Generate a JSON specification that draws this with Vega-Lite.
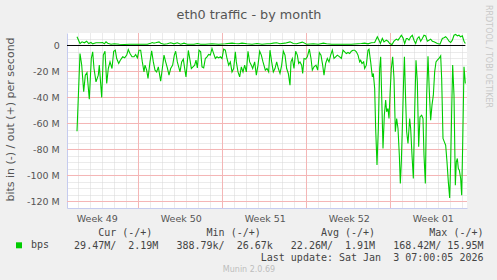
{
  "$schema": "https://vega.github.io/schema/vega-lite/v6.json",
  "width": 400,
  "height": 175,
  "autosize": {"type": "none"},
  "padding": {"left": 67, "top": 33, "right": 30, "bottom": 72},
  "background": "#f0f0f0",
  "config": {"view": {"fill": "#ffffff", "stroke": null}, "font": "DejaVu Sans"},
  "datasets": {
    "weeks": [{"day": 7}, {"day": 14}, {"day": 21}, {"day": 28}],
    "levels": [{"value": 0}, {"value": -20}, {"value": -40}, {"value": -60}, {"value": -80}, {"value": -100}, {"value": -120}],
    "traffic": [
      {"day": 1.875, "dir": "in", "value": -65.9}, {"day": 2.125, "dir": "in", "value": -6.2}, {"day": 2.267, "dir": "in", "value": -15}, {"day": 2.433, "dir": "in", "value": -35.6}, {"day": 2.567, "dir": "in", "value": -22.8}, {"day": 2.708, "dir": "in", "value": -20.8}, {"day": 2.9, "dir": "in", "value": -41.3}, {"day": 3.067, "dir": "in", "value": -10}, {"day": 3.183, "dir": "in", "value": -4.9}, {"day": 3.292, "dir": "in", "value": -17.7}, {"day": 3.458, "dir": "in", "value": -28}, {"day": 3.65, "dir": "in", "value": -22.8}, {"day": 3.733, "dir": "in", "value": -15}, {"day": 3.933, "dir": "in", "value": -40}, {"day": 4.067, "dir": "in", "value": -7.4}, {"day": 4.208, "dir": "in", "value": -4.4}, {"day": 4.35, "dir": "in", "value": -29.2}, {"day": 4.483, "dir": "in", "value": -17.7}, {"day": 4.625, "dir": "in", "value": -12.6}, {"day": 4.792, "dir": "in", "value": -17.7}, {"day": 4.933, "dir": "in", "value": -4.4}, {"day": 5.067, "dir": "in", "value": -3.6}, {"day": 5.183, "dir": "in", "value": -10}, {"day": 5.35, "dir": "in", "value": -13.8}, {"day": 5.483, "dir": "in", "value": -11.3}, {"day": 5.683, "dir": "in", "value": -8.7}, {"day": 5.85, "dir": "in", "value": -9.5}, {"day": 6.017, "dir": "in", "value": -7.4}, {"day": 6.15, "dir": "in", "value": -3.1}, {"day": 6.292, "dir": "in", "value": -6.2}, {"day": 6.458, "dir": "in", "value": -8.7}, {"day": 6.625, "dir": "in", "value": -8.7}, {"day": 6.764, "dir": "in", "value": -6.9}, {"day": 6.903, "dir": "in", "value": -9.5}, {"day": 7.042, "dir": "in", "value": -3.6}, {"day": 7.181, "dir": "in", "value": -3.6}, {"day": 7.319, "dir": "in", "value": -12.6}, {"day": 7.458, "dir": "in", "value": -20.3}, {"day": 7.542, "dir": "in", "value": -15.1}, {"day": 7.681, "dir": "in", "value": -19}, {"day": 7.792, "dir": "in", "value": -25.4}, {"day": 7.958, "dir": "in", "value": -12.6}, {"day": 8.097, "dir": "in", "value": -4.1}, {"day": 8.236, "dir": "in", "value": -12.6}, {"day": 8.375, "dir": "in", "value": -19}, {"day": 8.514, "dir": "in", "value": -20.3}, {"day": 8.653, "dir": "in", "value": -16.4}, {"day": 8.847, "dir": "in", "value": -27.4}, {"day": 8.986, "dir": "in", "value": -17.7}, {"day": 9.125, "dir": "in", "value": -7.4}, {"day": 9.264, "dir": "in", "value": -12.6}, {"day": 9.403, "dir": "in", "value": -17.2}, {"day": 9.542, "dir": "in", "value": -22.8}, {"day": 9.681, "dir": "in", "value": -17.7}, {"day": 9.847, "dir": "in", "value": -15.1}, {"day": 9.986, "dir": "in", "value": -7.4}, {"day": 10.097, "dir": "in", "value": -4.4}, {"day": 10.236, "dir": "in", "value": -12.6}, {"day": 10.347, "dir": "in", "value": -16.4}, {"day": 10.458, "dir": "in", "value": -20.3}, {"day": 10.597, "dir": "in", "value": -12.6}, {"day": 10.736, "dir": "in", "value": -10.5}, {"day": 10.847, "dir": "in", "value": -17.7}, {"day": 10.958, "dir": "in", "value": -24.1}, {"day": 11.069, "dir": "in", "value": -12.6}, {"day": 11.153, "dir": "in", "value": -3.8}, {"day": 11.292, "dir": "in", "value": -11.3}, {"day": 11.403, "dir": "in", "value": -17.7}, {"day": 11.542, "dir": "in", "value": -16.4}, {"day": 11.681, "dir": "in", "value": -15.1}, {"day": 11.792, "dir": "in", "value": -11.3}, {"day": 11.903, "dir": "in", "value": -17.2}, {"day": 12.042, "dir": "in", "value": -3.6}, {"day": 12.181, "dir": "in", "value": -4.9}, {"day": 12.292, "dir": "in", "value": -16.4}, {"day": 12.431, "dir": "in", "value": -17.2}, {"day": 12.569, "dir": "in", "value": -10}, {"day": 12.708, "dir": "in", "value": -8.7}, {"day": 12.847, "dir": "in", "value": -6.9}, {"day": 12.986, "dir": "in", "value": -7.4}, {"day": 13.125, "dir": "in", "value": -2.3}, {"day": 13.264, "dir": "in", "value": -6.2}, {"day": 13.403, "dir": "in", "value": -10}, {"day": 13.542, "dir": "in", "value": -8.7}, {"day": 13.681, "dir": "in", "value": -9.5}, {"day": 13.819, "dir": "in", "value": -8.7}, {"day": 13.958, "dir": "in", "value": -10}, {"day": 14.097, "dir": "in", "value": -2.8}, {"day": 14.236, "dir": "in", "value": -3.6}, {"day": 14.375, "dir": "in", "value": -10}, {"day": 14.514, "dir": "in", "value": -15.1}, {"day": 14.653, "dir": "in", "value": -12.6}, {"day": 14.792, "dir": "in", "value": -20.3}, {"day": 14.931, "dir": "in", "value": -17.7}, {"day": 15.069, "dir": "in", "value": -4.9}, {"day": 15.153, "dir": "in", "value": -12.6}, {"day": 15.292, "dir": "in", "value": -20.3}, {"day": 15.431, "dir": "in", "value": -24.1}, {"day": 15.569, "dir": "in", "value": -16.4}, {"day": 15.708, "dir": "in", "value": -20.3}, {"day": 15.847, "dir": "in", "value": -15.1}, {"day": 15.986, "dir": "in", "value": -20.3}, {"day": 16.125, "dir": "in", "value": -4.4}, {"day": 16.264, "dir": "in", "value": -12.6}, {"day": 16.403, "dir": "in", "value": -15.1}, {"day": 16.514, "dir": "in", "value": -17.7}, {"day": 16.681, "dir": "in", "value": -12.6}, {"day": 16.819, "dir": "in", "value": -22.8}, {"day": 16.958, "dir": "in", "value": -15.1}, {"day": 17.097, "dir": "in", "value": -4.4}, {"day": 17.236, "dir": "in", "value": -7.4}, {"day": 17.375, "dir": "in", "value": -12.6}, {"day": 17.569, "dir": "in", "value": -19}, {"day": 17.708, "dir": "in", "value": -17.7}, {"day": 17.847, "dir": "in", "value": -20.3}, {"day": 17.958, "dir": "in", "value": -3.6}, {"day": 18.097, "dir": "in", "value": -12.6}, {"day": 18.236, "dir": "in", "value": -20.3}, {"day": 18.375, "dir": "in", "value": -17.7}, {"day": 18.514, "dir": "in", "value": -12.6}, {"day": 18.653, "dir": "in", "value": -17.7}, {"day": 18.792, "dir": "in", "value": -21.5}, {"day": 18.931, "dir": "in", "value": -15.1}, {"day": 19.069, "dir": "in", "value": -4.4}, {"day": 19.208, "dir": "in", "value": -7.4}, {"day": 19.347, "dir": "in", "value": -17.7}, {"day": 19.486, "dir": "in", "value": -21.5}, {"day": 19.625, "dir": "in", "value": -30.5}, {"day": 19.708, "dir": "in", "value": -12.6}, {"day": 19.819, "dir": "in", "value": -10}, {"day": 19.958, "dir": "in", "value": -17.7}, {"day": 20.097, "dir": "in", "value": -4.4}, {"day": 20.236, "dir": "in", "value": -7.4}, {"day": 20.347, "dir": "in", "value": -13.8}, {"day": 20.458, "dir": "in", "value": -12.6}, {"day": 20.597, "dir": "in", "value": -15.1}, {"day": 20.681, "dir": "in", "value": -21.5}, {"day": 20.792, "dir": "in", "value": -10}, {"day": 20.931, "dir": "in", "value": -10.5}, {"day": 21.069, "dir": "in", "value": -8.7}, {"day": 21.236, "dir": "in", "value": -2.8}, {"day": 21.375, "dir": "in", "value": -10}, {"day": 21.486, "dir": "in", "value": -19}, {"day": 21.625, "dir": "in", "value": -16.4}, {"day": 21.792, "dir": "in", "value": -15.1}, {"day": 21.931, "dir": "in", "value": -19}, {"day": 22.069, "dir": "in", "value": -5.4}, {"day": 22.208, "dir": "in", "value": -7.4}, {"day": 22.347, "dir": "in", "value": -15.1}, {"day": 22.458, "dir": "in", "value": -22.8}, {"day": 22.597, "dir": "in", "value": -13.8}, {"day": 22.736, "dir": "in", "value": -10}, {"day": 22.875, "dir": "in", "value": -12.6}, {"day": 23.014, "dir": "in", "value": -7.4}, {"day": 23.153, "dir": "in", "value": -3.6}, {"day": 23.292, "dir": "in", "value": -10}, {"day": 23.431, "dir": "in", "value": -8.7}, {"day": 23.569, "dir": "in", "value": -7.4}, {"day": 23.764, "dir": "in", "value": -8.7}, {"day": 23.903, "dir": "in", "value": -10}, {"day": 24.042, "dir": "in", "value": -3.6}, {"day": 24.181, "dir": "in", "value": -4.9}, {"day": 24.319, "dir": "in", "value": -6.2}, {"day": 24.458, "dir": "in", "value": -5.4}, {"day": 24.597, "dir": "in", "value": -6.2}, {"day": 24.736, "dir": "in", "value": -4.4}, {"day": 24.875, "dir": "in", "value": -3.6}, {"day": 25.014, "dir": "in", "value": -3.6}, {"day": 25.153, "dir": "in", "value": -4.9}, {"day": 25.292, "dir": "in", "value": -7.4}, {"day": 25.431, "dir": "in", "value": -12.6}, {"day": 25.514, "dir": "in", "value": -11.3}, {"day": 25.625, "dir": "in", "value": -13.8}, {"day": 25.764, "dir": "in", "value": -12.6}, {"day": 25.847, "dir": "in", "value": -17.7}, {"day": 25.986, "dir": "in", "value": -15.1}, {"day": 26.125, "dir": "in", "value": -3.6}, {"day": 26.208, "dir": "in", "value": -2.8}, {"day": 26.347, "dir": "in", "value": -12.6}, {"day": 26.486, "dir": "in", "value": -24.1}, {"day": 26.569, "dir": "in", "value": -21.5}, {"day": 26.681, "dir": "in", "value": -33.1}, {"day": 26.764, "dir": "in", "value": -63.8}, {"day": 26.875, "dir": "in", "value": -92}, {"day": 26.986, "dir": "in", "value": -63.8}, {"day": 27.097, "dir": "in", "value": -17.7}, {"day": 27.181, "dir": "in", "value": -8.7}, {"day": 27.264, "dir": "in", "value": -38.2}, {"day": 27.375, "dir": "in", "value": -79.2}, {"day": 27.486, "dir": "in", "value": -53.6}, {"day": 27.597, "dir": "in", "value": -42}, {"day": 27.681, "dir": "in", "value": -51}, {"day": 27.792, "dir": "in", "value": -48.5}, {"day": 27.875, "dir": "in", "value": -56.2}, {"day": 27.958, "dir": "in", "value": -38.2}, {"day": 28.069, "dir": "in", "value": -17.7}, {"day": 28.181, "dir": "in", "value": -8.7}, {"day": 28.292, "dir": "in", "value": -25.4}, {"day": 28.403, "dir": "in", "value": -66.4}, {"day": 28.514, "dir": "in", "value": -56.2}, {"day": 28.625, "dir": "in", "value": -63.8}, {"day": 28.736, "dir": "in", "value": -84.4}, {"day": 28.819, "dir": "in", "value": -106.2}, {"day": 28.903, "dir": "in", "value": -89.5}, {"day": 28.986, "dir": "in", "value": -63.8}, {"day": 29.097, "dir": "in", "value": -25.4}, {"day": 29.16, "dir": "in", "value": -8.7}, {"day": 29.25, "dir": "in", "value": -38.2}, {"day": 29.347, "dir": "in", "value": -66.4}, {"day": 29.458, "dir": "in", "value": -75.4}, {"day": 29.597, "dir": "in", "value": -56.2}, {"day": 29.681, "dir": "in", "value": -63.8}, {"day": 29.792, "dir": "in", "value": -84.4}, {"day": 29.903, "dir": "in", "value": -102.3}, {"day": 30.014, "dir": "in", "value": -51}, {"day": 30.125, "dir": "in", "value": -11.3}, {"day": 30.236, "dir": "in", "value": -27.9}, {"day": 30.347, "dir": "in", "value": -77.9}, {"day": 30.458, "dir": "in", "value": -54.9}, {"day": 30.597, "dir": "in", "value": -53.6}, {"day": 30.708, "dir": "in", "value": -56.2}, {"day": 30.792, "dir": "in", "value": -84.4}, {"day": 30.903, "dir": "in", "value": -106.2}, {"day": 31.014, "dir": "in", "value": -38.2}, {"day": 31.125, "dir": "in", "value": -8.2}, {"day": 31.236, "dir": "in", "value": -35.6}, {"day": 31.347, "dir": "in", "value": -57.4}, {"day": 31.458, "dir": "in", "value": -45.9}, {"day": 31.569, "dir": "in", "value": -38.2}, {"day": 31.681, "dir": "in", "value": -20.3}, {"day": 31.792, "dir": "in", "value": -12.6}, {"day": 31.903, "dir": "in", "value": -11.3}, {"day": 32.042, "dir": "in", "value": -10}, {"day": 32.181, "dir": "in", "value": -7.9}, {"day": 32.264, "dir": "in", "value": -25.4}, {"day": 32.375, "dir": "in", "value": -71.5}, {"day": 32.486, "dir": "in", "value": -74.1}, {"day": 32.597, "dir": "in", "value": -76.7}, {"day": 32.708, "dir": "in", "value": -89.5}, {"day": 32.819, "dir": "in", "value": -104.9}, {"day": 32.931, "dir": "in", "value": -117.2}, {"day": 33.014, "dir": "in", "value": -89.5}, {"day": 33.097, "dir": "in", "value": -51}, {"day": 33.181, "dir": "in", "value": -15.1}, {"day": 33.292, "dir": "in", "value": -38.2}, {"day": 33.403, "dir": "in", "value": -107.4}, {"day": 33.486, "dir": "in", "value": -89.5}, {"day": 33.569, "dir": "in", "value": -86.9}, {"day": 33.653, "dir": "in", "value": -94.6}, {"day": 33.736, "dir": "in", "value": -95.9}, {"day": 33.847, "dir": "in", "value": -102.3}, {"day": 33.931, "dir": "in", "value": -115.1}, {"day": 34.014, "dir": "in", "value": -76.7}, {"day": 34.125, "dir": "in", "value": -16.4}, {"day": 34.236, "dir": "in", "value": -29.2},
      {"day": 1.875, "dir": "out", "value": 6.7}, {"day": 2.125, "dir": "out", "value": 1.5}, {"day": 2.292, "dir": "out", "value": 2.8}, {"day": 2.486, "dir": "out", "value": 2.1}, {"day": 2.681, "dir": "out", "value": 3.3}, {"day": 2.847, "dir": "out", "value": 1.5}, {"day": 3.042, "dir": "out", "value": 2.3}, {"day": 3.181, "dir": "out", "value": 1.3}, {"day": 3.458, "dir": "out", "value": 2.1}, {"day": 3.736, "dir": "out", "value": 2.1}, {"day": 4.014, "dir": "out", "value": 2.3}, {"day": 4.153, "dir": "out", "value": 1.3}, {"day": 4.292, "dir": "out", "value": 2.8}, {"day": 4.431, "dir": "out", "value": 1.8}, {"day": 4.708, "dir": "out", "value": 1.0}, {"day": 4.986, "dir": "out", "value": 1.3}, {"day": 5.403, "dir": "out", "value": 1.0}, {"day": 5.819, "dir": "out", "value": 0.8}, {"day": 6.236, "dir": "out", "value": 1.0}, {"day": 6.653, "dir": "out", "value": 1.0}, {"day": 7.181, "dir": "out", "value": 1.0}, {"day": 7.736, "dir": "out", "value": 1.0}, {"day": 8.014, "dir": "out", "value": 1.8}, {"day": 8.153, "dir": "out", "value": 2.3}, {"day": 8.292, "dir": "out", "value": 1.8}, {"day": 8.431, "dir": "out", "value": 2.1}, {"day": 8.708, "dir": "out", "value": 2.8}, {"day": 8.847, "dir": "out", "value": 1.8}, {"day": 9.125, "dir": "out", "value": 1.0}, {"day": 9.403, "dir": "out", "value": 1.3}, {"day": 9.681, "dir": "out", "value": 2.1}, {"day": 9.958, "dir": "out", "value": 1.3}, {"day": 10.236, "dir": "out", "value": 2.1}, {"day": 10.514, "dir": "out", "value": 1.0}, {"day": 10.792, "dir": "out", "value": 1.8}, {"day": 11.069, "dir": "out", "value": 1.0}, {"day": 11.625, "dir": "out", "value": 1.0}, {"day": 11.903, "dir": "out", "value": 1.5}, {"day": 12.181, "dir": "out", "value": 1.0}, {"day": 12.569, "dir": "out", "value": 1.0}, {"day": 13.125, "dir": "out", "value": 1.3}, {"day": 13.681, "dir": "out", "value": 1.0}, {"day": 14.236, "dir": "out", "value": 1.3}, {"day": 14.792, "dir": "out", "value": 1.8}, {"day": 15.069, "dir": "out", "value": 1.5}, {"day": 15.347, "dir": "out", "value": 1.3}, {"day": 15.625, "dir": "out", "value": 1.8}, {"day": 16.042, "dir": "out", "value": 1.3}, {"day": 16.458, "dir": "out", "value": 1.0}, {"day": 16.875, "dir": "out", "value": 1.5}, {"day": 17.292, "dir": "out", "value": 1.0}, {"day": 17.708, "dir": "out", "value": 1.3}, {"day": 17.958, "dir": "out", "value": 1.3}, {"day": 18.236, "dir": "out", "value": 1.8}, {"day": 18.514, "dir": "out", "value": 2.1}, {"day": 18.792, "dir": "out", "value": 1.3}, {"day": 19.208, "dir": "out", "value": 1.8}, {"day": 19.625, "dir": "out", "value": 2.8}, {"day": 19.903, "dir": "out", "value": 1.5}, {"day": 20.181, "dir": "out", "value": 1.3}, {"day": 20.653, "dir": "out", "value": 2.6}, {"day": 21.014, "dir": "out", "value": 1.0}, {"day": 21.569, "dir": "out", "value": 1.3}, {"day": 21.986, "dir": "out", "value": 1.0}, {"day": 22.403, "dir": "out", "value": 1.8}, {"day": 22.681, "dir": "out", "value": 1.3}, {"day": 23.097, "dir": "out", "value": 1.0}, {"day": 23.514, "dir": "out", "value": 1.0}, {"day": 24.181, "dir": "out", "value": 1.0}, {"day": 24.736, "dir": "out", "value": 1.0}, {"day": 25.292, "dir": "out", "value": 1.3}, {"day": 25.569, "dir": "out", "value": 1.5}, {"day": 25.847, "dir": "out", "value": 1.8}, {"day": 26.125, "dir": "out", "value": 1.3}, {"day": 26.403, "dir": "out", "value": 2.1}, {"day": 26.681, "dir": "out", "value": 2.3}, {"day": 26.903, "dir": "out", "value": 6.7}, {"day": 27.042, "dir": "out", "value": 4.1}, {"day": 27.153, "dir": "out", "value": 1.5}, {"day": 27.319, "dir": "out", "value": 5.4}, {"day": 27.458, "dir": "out", "value": 2.8}, {"day": 27.653, "dir": "out", "value": 4.1}, {"day": 27.792, "dir": "out", "value": 3.3}, {"day": 27.931, "dir": "out", "value": 1.5}, {"day": 28.125, "dir": "out", "value": 0.8}, {"day": 28.292, "dir": "out", "value": 3.3}, {"day": 28.486, "dir": "out", "value": 4.9}, {"day": 28.625, "dir": "out", "value": 4.1}, {"day": 28.764, "dir": "out", "value": 5.9}, {"day": 28.903, "dir": "out", "value": 7.9}, {"day": 29.042, "dir": "out", "value": 5.9}, {"day": 29.181, "dir": "out", "value": 1.5}, {"day": 29.319, "dir": "out", "value": 5.4}, {"day": 29.403, "dir": "out", "value": 5.4}, {"day": 29.542, "dir": "out", "value": 4.1}, {"day": 29.681, "dir": "out", "value": 6.7}, {"day": 29.819, "dir": "out", "value": 7.9}, {"day": 29.958, "dir": "out", "value": 4.1}, {"day": 30.097, "dir": "out", "value": 1.5}, {"day": 30.236, "dir": "out", "value": 5.4}, {"day": 30.375, "dir": "out", "value": 6.7}, {"day": 30.514, "dir": "out", "value": 3.3}, {"day": 30.653, "dir": "out", "value": 5.4}, {"day": 30.792, "dir": "out", "value": 7.9}, {"day": 30.931, "dir": "out", "value": 7.4}, {"day": 31.069, "dir": "out", "value": 3.3}, {"day": 31.208, "dir": "out", "value": 4.1}, {"day": 31.347, "dir": "out", "value": 4.9}, {"day": 31.486, "dir": "out", "value": 3.3}, {"day": 31.625, "dir": "out", "value": 2.8}, {"day": 31.903, "dir": "out", "value": 1.5}, {"day": 32.125, "dir": "out", "value": 1.0}, {"day": 32.319, "dir": "out", "value": 5.4}, {"day": 32.458, "dir": "out", "value": 5.9}, {"day": 32.597, "dir": "out", "value": 6.7}, {"day": 32.736, "dir": "out", "value": 5.4}, {"day": 32.875, "dir": "out", "value": 3.3}, {"day": 33.014, "dir": "out", "value": 2.3}, {"day": 33.153, "dir": "out", "value": 4.1}, {"day": 33.292, "dir": "out", "value": 7.9}, {"day": 33.431, "dir": "out", "value": 8.5}, {"day": 33.569, "dir": "out", "value": 7.4}, {"day": 33.708, "dir": "out", "value": 7.9}, {"day": 33.847, "dir": "out", "value": 6.7}, {"day": 33.986, "dir": "out", "value": 7.4}, {"day": 34.125, "dir": "out", "value": 3.3}, {"day": 34.236, "dir": "out", "value": 1.5}
    ]
  },
  "layer": [
    {
      "data": {"name": "weeks"},
      "mark": {"type": "rule", "stroke": "#f4b6b6", "strokeWidth": 1, "opacity": 1},
      "encoding": {
        "x": {
          "field": "day", "type": "quantitative",
          "scale": {"domain": [1.0417, 34.375], "nice": false, "zero": false},
          "axis": {
            "orient": "top", "title": "eth0 traffic - by month",
            "labels": false, "ticks": false, "domain": false, "grid": false,
            "titleX": 181.5, "titleY": -14.5, "titleAlign": "center", "titleBaseline": "alphabetic",
            "titleFont": "DejaVu Sans", "titleFontSize": 12.8, "titleFontWeight": "normal", "titleColor": "#555555"
          }
        }
      }
    },
    {
      "data": {"name": "levels"},
      "transform": [{"filter": "datum.value < 0"}],
      "mark": {"type": "rule", "stroke": "#f4b6b6", "strokeWidth": 1, "opacity": 1},
      "encoding": {
        "y": {
          "field": "value", "type": "quantitative",
          "scale": {"domain": [-125, 9.615], "nice": false, "zero": false},
          "axis": {
            "orient": "right", "title": "RRDTOOL / TOBI OETIKER",
            "labels": false, "ticks": false, "domain": false, "grid": false,
            "titleAngle": 90, "titleX": 20.3, "titleY": 23, "titleAlign": "center", "titleBaseline": "middle",
            "titleFont": "DejaVu Sans", "titleFontSize": 8, "titleFontWeight": "normal", "titleColor": "#c8c8c8"
          }
        }
      }
    },
    {
      "data": {"name": "levels"},
      "transform": [{"filter": "datum.value === 0"}],
      "mark": {"type": "rule", "color": "#000000", "strokeWidth": 1},
      "encoding": {
        "x": {
          "datum": 1.0417, "type": "quantitative",
          "axis": {
            "orient": "bottom", "title": "Munin 2.0.69",
            "labels": false, "ticks": false, "domain": false, "grid": false,
            "titleX": 181.5, "titleY": 63.5, "titleAlign": "center", "titleBaseline": "alphabetic",
            "titleFont": "DejaVu Sans", "titleFontSize": 8, "titleFontWeight": "normal", "titleColor": "#bdbdbd"
          }
        },
        "x2": {"datum": 34.24},
        "y": {"field": "value", "type": "quantitative", "axis": null}
      }
    },
    {
      "data": {"name": "traffic"},
      "mark": {"type": "line", "strokeWidth": 1.1, "interpolate": "linear"},
      "encoding": {
        "x": {
          "field": "day", "type": "quantitative",
          "scale": {"domain": [1.0417, 34.375], "nice": false, "zero": false},
          "axis": {
            "orient": "bottom",
            "values": [2, 3, 4, 5, 6, 7, 8, 9, 10, 11, 12, 13, 14, 15, 16, 17, 18, 19, 20, 21, 22, 23, 24, 25, 26, 27, 28, 29, 30, 31, 32, 33, 34],
            "labelExpr": "datum.value === 3 ? 'Week 49' : datum.value === 10 ? 'Week 50' : datum.value === 17 ? 'Week 51' : datum.value === 24 ? 'Week 52' : datum.value === 31 ? 'Week 01' : ''",
            "labelOffset": 6.3, "labelOverlap": false, "labelFlush": false,
            "labelFont": "DejaVu Sans", "labelFontSize": 9.5, "labelColor": "#555555",
            "labelBaseline": "alphabetic", "labelPadding": 13.5,
            "ticks": false, "tickSize": 0,
            "grid": true,
            "gridColor": {"condition": {"test": "datum.value % 7 === 0", "value": "transparent"}, "value": "#d6d6d6"},
            "gridDash": [1, 1], "gridWidth": 1,
            "domain": true, "domainColor": "#c5cbef", "domainWidth": 1,
            "title": [
              "Cur\u00a0(-/+)\u00a0\u00a0\u00a0\u00a0\u00a0\u00a0\u00a0\u00a0\u00a0Min\u00a0(-/+)\u00a0\u00a0\u00a0\u00a0\u00a0\u00a0\u00a0\u00a0\u00a0\u00a0Avg\u00a0(-/+)\u00a0\u00a0\u00a0\u00a0\u00a0\u00a0\u00a0\u00a0\u00a0Max\u00a0(-/+)\u00a0",
              "29.47M/\u00a0\u00a02.19M\u00a0\u00a0\u00a0388.79k/\u00a0\u00a026.67k\u00a0\u00a0\u00a022.26M/\u00a0\u00a01.91M\u00a0\u00a0\u00a0168.42M/\u00a015.95M",
              "Last\u00a0update:\u00a0Sat\u00a0Jan\u00a0\u00a03\u00a007:00:05\u00a02026"
            ],
            "titleX": 416, "titleY": 27.5, "titleAlign": "right", "titleBaseline": "alphabetic",
            "titleFont": "DejaVu Sans Mono", "titleFontSize": 10, "titleFontWeight": "normal", "titleColor": "#444444", "titleLineHeight": 12.5
          }
        },
        "y": {
          "field": "value", "type": "quantitative",
          "scale": {"domain": [-125, 9.615], "nice": false, "zero": false},
          "axis": {
            "orient": "left",
            "values": [-120, -115, -110, -105, -100, -95, -90, -85, -80, -75, -70, -65, -60, -55, -50, -45, -40, -35, -30, -25, -20, -15, -10, -5, 0, 5],
            "labelExpr": "datum.value % 20 === 0 ? (datum.value === 0 ? '0' : datum.value + ' M') : ''",
            "labelFont": "DejaVu Sans", "labelFontSize": 9.5, "labelColor": "#555555",
            "labelPadding": 7.7, "labelBaseline": "middle", "labelOverlap": false, "labelFlush": false,
            "ticks": false, "tickSize": 0,
            "grid": true,
            "gridColor": {"condition": {"test": "datum.value % 20 === 0", "value": "transparent"}, "value": "#d6d6d6"},
            "gridDash": [1, 1], "gridWidth": 1,
            "domain": true, "domainColor": "#c5cbef", "domainWidth": 1,
            "title": "bits in (-) / out (+) per second",
            "titleX": -57, "titleY": 86, "titleAngle": 270, "titleAlign": "center", "titleBaseline": "middle",
            "titleFont": "DejaVu Sans", "titleFontSize": 11, "titleFontWeight": "normal", "titleColor": "#555555"
          }
        },
        "detail": {"field": "dir", "type": "nominal"},
        "color": {
          "datum": "bps", "type": "nominal",
          "scale": {"range": ["#00cc00"]},
          "legend": {
            "orient": "none", "legendX": -53, "legendY": 207.3, "title": null, "padding": 0,
            "symbolType": "square", "symbolSize": 36, "symbolStrokeWidth": 0,
            "symbolFillColor": "#00cc00", "symbolStrokeColor": "#00cc00", "symbolOpacity": 1,
            "labelFont": "DejaVu Sans Mono", "labelFontSize": 10, "labelColor": "#444444", "labelOffset": 7
          }
        }
      }
    }
  ],
  "resolve": {"axis": {"x": "independent", "y": "independent"}}
}
